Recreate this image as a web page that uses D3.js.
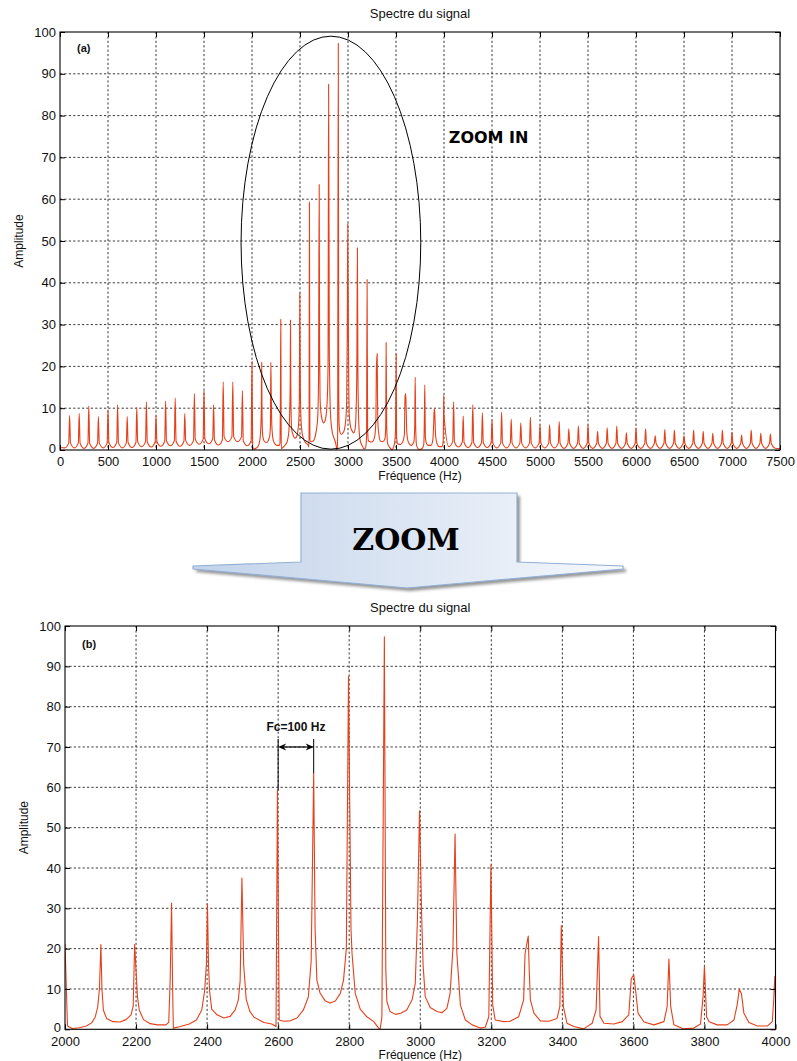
<!DOCTYPE html>
<html>
<head>
<meta charset="utf-8">
<script src="https://cdn.jsdelivr.net/npm/d3@7"></script>
<style>
  body { margin: 0; background: #fff; }
  svg { display: block; font-family: "Liberation Sans", Arial, sans-serif; }
</style>
</head>
<body>
<svg id="fig" width="797" height="1061"></svg>
<script>
// ---- Spectrum data -------------------------------------------------------
// Harmonic peaks below the detailed band (Hz, amplitude)
const lowFreqs = [100, 200, 300, 400, 500, 600, 700, 800, 900, 1000,
                  1100, 1200, 1300, 1400, 1500, 1600, 1700, 1800, 1900];
const lowPeaks = [8.3, 8.8, 10.5, 8.0, 9.6, 10.8, 8.0, 10.2, 11.5, 8.3,
                  11.7, 12.4, 8.7, 13.5, 14.2, 10.8, 16.3, 16.3, 14.2];
// Valley levels midway between peaks (50, 150, ... 1950 Hz)
const lowValleys = [0.5, 0.5, 0.4, 0.4, 0.5, 0.6, 0.5, 0.6, 0.8, 0.7,
                    0.9, 1.0, 0.9, 1.1, 1.4, 1.5, 1.2, 2.0, 2.0, 1.0];
const lowStart = 0.6;

// Detailed trace of the 2000-4000 Hz band
const bandFreqs = [
  2000, 2007, 2020, 2040, 2060, 2075, 2085, 2092, 2097, 2101, 2104, 2108, 2117, 2135, 2155, 2172, 2186, 2192, 2196, 2200,
  2204, 2209, 2221, 2240, 2260, 2284, 2292, 2296, 2300, 2303, 2305, 2325, 2350, 2370, 2385, 2393, 2398, 2401, 2404, 2407,
  2413, 2428, 2447, 2465, 2479, 2488, 2493, 2498, 2503, 2510, 2520, 2532, 2560, 2582, 2594, 2598, 2603, 2615, 2634, 2653,
  2671, 2685, 2693, 2700, 2704, 2709, 2718, 2732, 2746, 2761, 2775, 2784, 2792, 2798, 2805, 2808, 2817, 2831, 2850, 2869,
  2883, 2887, 2892, 2899, 2903, 2906, 2915, 2930, 2945, 2962, 2977, 2986, 2992, 2998, 3004, 3008, 3014, 3028, 3047, 3061,
  3075, 3084, 3092, 3098, 3103, 3113, 3127, 3146, 3169, 3183, 3193, 3199, 3204, 3211, 3235, 3253, 3277, 3291, 3295, 3304,
  3307, 3310, 3320, 3338, 3362, 3385, 3393, 3397, 3403, 3413, 3432, 3460, 3484, 3495, 3502, 3506, 3517, 3545, 3569, 3587,
  3594, 3601, 3606, 3613, 3630, 3658, 3686, 3695, 3700, 3705, 3714, 3742, 3770, 3789, 3796, 3800, 3806, 3813, 3836, 3864,
  3883, 3892, 3898, 3904, 3911, 3925, 3949, 3977, 3991, 3995, 3998, 4000];
const bandAmps = [
  21.2, 0.8, 0.2, 0.4, 0.8, 1.6, 3.0, 5.5, 10.0, 21.0, 10.0, 4.8, 2.7, 1.9, 1.8, 2.4, 3.6, 5.8, 21.0, 14.5,
  8.0, 4.8, 2.4, 1.4, 1.1, 1.1, 1.7, 12.0, 31.3, 10.0, 0.3, 0.7, 1.3, 2.3, 4.8, 9.5, 16.0, 31.1, 16.0, 9.5,
  5.0, 3.6, 2.8, 3.2, 4.8, 7.3, 12.0, 37.5, 16.0, 7.5, 4.5, 3.0, 1.7, 1.3, 0.7, 59.3, 2.3, 2.0, 2.1, 2.8,
  4.8, 8.0, 17.0, 63.5, 25.0, 12.2, 9.0, 7.1, 6.5, 7.0, 8.9, 12.2, 20.0, 87.5, 25.0, 18.8, 8.9, 5.0, 3.1, 1.9,
  0.3, 0.0, 3.0, 97.3, 15.0, 6.9, 4.4, 3.7, 4.0, 4.8, 7.3, 11.4, 27.0, 54.2, 28.0, 16.0, 8.1, 5.4, 4.4, 4.1,
  5.2, 8.9, 20.0, 48.4, 19.0, 6.0, 2.3, 1.1, 0.3, 0.5, 3.1, 40.8, 6.0, 2.3, 1.9, 2.0, 3.1, 7.3, 18.8, 23.1,
  14.0, 7.3, 4.0, 2.1, 2.0, 2.7, 5.6, 25.7, 5.6, 1.5, 0.7, 0.1, 1.5, 4.8, 23.0, 3.2, 1.5, 1.3, 1.9, 3.6,
  12.6, 13.5, 9.8, 4.0, 1.8, 1.1, 1.9, 5.6, 17.4, 5.6, 1.1, 0.1, 0.3, 1.3, 8.1, 15.6, 3.1, 1.9, 1.1, 1.1,
  2.3, 6.0, 9.9, 8.9, 4.0, 1.7, 0.8, 0.8, 1.9, 7.3, 13.1, 8.5];

// Harmonic peaks above the detailed band
const highFreqs = [4100, 4200, 4300, 4400, 4500, 4600, 4700, 4800, 4900, 5000,
                   5100, 5200, 5300, 5400, 5500, 5600, 5700, 5800, 5900, 6000,
                   6100, 6200, 6300, 6400, 6500, 6600, 6700, 6800, 6900, 7000,
                   7100, 7200, 7300, 7400];
const highPeaks = [11.5, 8.1, 10.8, 8.9, 7.2, 9.0, 7.4, 6.5, 7.8, 6.1,
                   6.0, 6.8, 5.1, 5.7, 6.1, 4.5, 5.3, 5.7, 4.1, 5.3,
                   5.1, 3.4, 4.9, 4.8, 3.4, 4.8, 4.5, 4.0, 4.8, 4.3,
                   3.6, 4.8, 4.0, 3.8];
// Valley levels at 4050, 4150, ... 7450 Hz
const highValleys = [0.8, 0.7, 0.6, 0.6, 0.6, 0.5, 0.5, 0.5, 0.5, 0.5,
                     0.5, 0.5, 0.4, 0.4, 0.4, 0.4, 0.4, 0.4, 0.4, 0.4,
                     0.4, 0.4, 0.4, 0.4, 0.4, 0.4, 0.4, 0.4, 0.4, 0.4,
                     0.4, 0.4, 0.4, 0.4, 0.4];
const highEnd = 0.3;

// Axis ticks
const xTicksA = [0, 500, 1000, 1500, 2000, 2500, 3000, 3500, 4000, 4500, 5000, 5500, 6000, 6500, 7000, 7500];
const xTicksB = [2000, 2200, 2400, 2600, 2800, 3000, 3200, 3400, 3600, 3800, 4000];
const yTicks = [0, 10, 20, 30, 40, 50, 60, 70, 80, 90, 100];

// Highlight ellipse around the dominant band (centre Hz/amplitude, radii)
const ellipseCentre = [2822, 49.6];
const ellipseRadii = [936, 49.4];

// Carrier spacing annotation
const fcMarks = [2600, 2700];
const fcLevel = 70;
const fcTop = 72;

// ---- Drawing -------------------------------------------------------------
const RED = "#e5401a";
const svg = d3.select("#fig");

// Peak glyph for the coarse bands: valley -> narrow foot -> spike -> foot -> valley
const footLift = 1.2;
function coarseTrace(freqs, peaks, valleys) {
  const pts = [];
  freqs.forEach((f, i) => {
    pts.push([f - 50, valleys[i]], [f - 9, valleys[i] + footLift], [f, peaks[i]], [f + 9, valleys[i + 1] + footLift]);
  });
  pts.push([freqs[freqs.length - 1] + 50, valleys[freqs.length]]);
  return pts;
}

const bandTrace = bandFreqs.map((f, i) => [f, bandAmps[i]]);
const fullTrace = [[0, lowStart]]
  .concat(coarseTrace(lowFreqs, lowPeaks, lowValleys))
  .concat([[1991, lowValleys[lowValleys.length - 1] + footLift]])
  .concat(bandTrace)
  .concat(coarseTrace(highFreqs, highPeaks, highValleys))
  .concat([[7500, highEnd]]);

function drawPanel(opt) {
  const { left, right, top, bottom, xDomain, xTicks, data, curve, id } = opt;
  const x = d3.scaleLinear().domain(xDomain).range([left, right]);
  const y = d3.scaleLinear().domain([0, 100]).range([bottom, top]);
  const g = svg.append("g");

  g.append("clipPath").attr("id", id).append("rect")
    .attr("x", left).attr("y", top).attr("width", right - left).attr("height", bottom - top);

  // dotted grid
  const grid = g.append("g").attr("stroke", "#222").attr("stroke-width", 0.9)
    .attr("stroke-dasharray", "2.2,2.2");
  grid.selectAll(".gx").data(xTicks.slice(1, -1)).join("line")
    .attr("x1", d => x(d)).attr("x2", d => x(d)).attr("y1", top).attr("y2", bottom);
  grid.selectAll(".gy").data(yTicks.slice(1, -1)).join("line")
    .attr("y1", d => y(d)).attr("y2", d => y(d)).attr("x1", left).attr("x2", right);

  // spectrum
  g.append("path").datum(data)
    .attr("clip-path", `url(#${id})`)
    .attr("fill", "none").attr("stroke", RED).attr("stroke-width", 1.1)
    .attr("stroke-linejoin", "round")
    .attr("d", d3.line().x(d => x(d[0])).y(d => y(d[1])).curve(curve));

  // axes with inward ticks on all four sides
  const fmt = d3.format("d");
  const ax = g.append("g").attr("transform", `translate(0,${bottom})`)
    .call(d3.axisBottom(x).tickValues(xTicks).tickFormat(fmt).tickSize(-5).tickPadding(7).tickSizeOuter(0));
  const ay = g.append("g").attr("transform", `translate(${left},0)`)
    .call(d3.axisLeft(y).tickValues(yTicks).tickFormat(fmt).tickSize(-5).tickPadding(4).tickSizeOuter(0));
  const at = g.append("g").attr("transform", `translate(0,${top})`)
    .call(d3.axisTop(x).tickValues(xTicks).tickSize(-5).tickFormat("").tickSizeOuter(0));
  const ar = g.append("g").attr("transform", `translate(${right},0)`)
    .call(d3.axisRight(y).tickValues(yTicks).tickSize(-5).tickFormat("").tickSizeOuter(0));
  [ax, ay, at, ar].forEach(a => {
    a.select(".domain").remove();
    a.selectAll("line").attr("stroke", "#000");
    a.selectAll("text").attr("fill", "#111").style("font-size", "13px")
      .style("font-family", '"Liberation Sans", Arial, sans-serif');
  });
  // lowest y label sits a touch above the corner
  ay.selectAll(".tick").filter(d => d === 0).select("text").attr("dy", "0.2em");

  g.append("rect").attr("x", left).attr("y", top).attr("width", right - left).attr("height", bottom - top)
    .attr("fill", "none").attr("stroke", "#000").attr("stroke-width", 1.1);

  // titles
  g.append("text").attr("x", (left + right) / 2).attr("y", top - 14).attr("text-anchor", "middle")
    .style("font-size", "13px").attr("fill", "#111").text("Spectre du signal");
  g.append("text").attr("x", (left + right) / 2).attr("y", bottom + 30).attr("text-anchor", "middle")
    .style("font-size", "12px").attr("fill", "#111").text("Fréquence (Hz)");
  g.append("text").attr("transform", `translate(${left - 37},${(top + bottom) / 2}) rotate(-90)`)
    .attr("text-anchor", "middle").style("font-size", "12px").attr("fill", "#111").text("Amplitude");

  return { g, x, y };
}

// Panel (a): full spectrum
const A = drawPanel({ left: 60, right: 780, top: 32, bottom: 450, xDomain: [0, 7500],
  xTicks: xTicksA, data: fullTrace, curve: d3.curveMonotoneX, id: "clipA" });

A.g.append("ellipse")
  .attr("cx", A.x(ellipseCentre[0])).attr("cy", A.y(ellipseCentre[1]))
  .attr("rx", A.x(ellipseCentre[0] + ellipseRadii[0]) - A.x(ellipseCentre[0]))
  .attr("ry", A.y(0) - A.y(ellipseRadii[1]))
  .attr("fill", "none").attr("stroke", "#000").attr("stroke-width", 1);

A.g.append("text").attr("x", 77).attr("y", 52).style("font-size", "11px").style("font-weight", "bold")
  .attr("fill", "#111").text("(a)");
A.g.append("text").attr("x", A.x(4050)).attr("y", A.y(73.5))
  .style("font-family", '"DejaVu Sans", sans-serif').style("font-size", "16px").style("font-weight", "bold")
  .attr("fill", "#000").text("ZOOM IN");

// Panel (b): 2000-4000 Hz band
const B = drawPanel({ left: 65, right: 775.5, top: 626, bottom: 1029.3, xDomain: [2000, 4000],
  xTicks: xTicksB, data: bandTrace, curve: d3.curveLinear, id: "clipB" });

B.g.append("text").attr("x", 82).attr("y", 648).style("font-size", "11px").style("font-weight", "bold")
  .attr("fill", "#111").text("(b)");

// Fc spacing marker between two neighbouring peaks
const peakAt = f => d3.max(bandTrace.filter(d => Math.abs(d[0] - f) <= 5), d => d[1]);
fcMarks.forEach(f => {
  B.g.append("line").attr("x1", B.x(f)).attr("x2", B.x(f))
    .attr("y1", B.y(fcTop)).attr("y2", B.y(peakAt(f)))
    .attr("stroke", "#000").attr("stroke-width", 1);
});
const ax0 = B.x(fcMarks[0]), ax1 = B.x(fcMarks[1]), ay0 = B.y(fcLevel);
B.g.append("line").attr("x1", ax0 + 2).attr("x2", ax1 - 2).attr("y1", ay0).attr("y2", ay0)
  .attr("stroke", "#000").attr("stroke-width", 1.2);
B.g.append("path").attr("fill", "#000")
  .attr("d", `M${ax0},${ay0} L${ax0 + 8},${ay0 - 3.5} L${ax0 + 5.5},${ay0} L${ax0 + 8},${ay0 + 3.5} Z`);
B.g.append("path").attr("fill", "#000")
  .attr("d", `M${ax1},${ay0} L${ax1 - 8},${ay0 - 3.5} L${ax1 - 5.5},${ay0} L${ax1 - 8},${ay0 + 3.5} Z`);
B.g.append("text").attr("x", (ax0 + ax1) / 2).attr("y", ay0 - 16).attr("text-anchor", "middle")
  .style("font-size", "12px").style("font-weight", "bold").attr("fill", "#111").text("Fc=100 Hz");

// ---- ZOOM block arrow between the two panels -----------------------------
const defs = svg.append("defs");
const grad = defs.append("linearGradient").attr("id", "arrowFill").attr("x1", "0").attr("x2", "1").attr("y1", "0").attr("y2", "0");
grad.append("stop").attr("offset", "0").attr("stop-color", "#c2d3ea");
grad.append("stop").attr("offset", "1").attr("stop-color", "#f6f8fc");
const shadow = defs.append("filter").attr("id", "arrowShadow").attr("x", "-10%").attr("y", "-10%").attr("width", "130%").attr("height", "150%");
shadow.append("feGaussianBlur").attr("stdDeviation", 1.6);

const arrowPts = [[301, 493], [517, 493], [517, 562], [623, 566], [623, 569], [407, 588],
                  [193, 569], [193, 566], [301, 562]];
const arrowPath = "M" + arrowPts.map(p => p.join(",")).join("L") + "Z";
svg.append("path").attr("d", arrowPath).attr("transform", "translate(3,3)")
  .attr("fill", "#6f6f6f").attr("opacity", 0.75).attr("filter", "url(#arrowShadow)");
svg.append("path").attr("d", arrowPath).attr("fill", "url(#arrowFill)")
  .attr("stroke", "#93b0d6").attr("stroke-width", 1.2).attr("stroke-linejoin", "miter");
svg.append("text").attr("x", 406).attr("y", 550).attr("text-anchor", "middle")
  .style("font-family", '"DejaVu Serif", serif').style("font-size", "30px").style("font-weight", "bold")
  .attr("fill", "#000").text("ZOOM");
</script>
</body>
</html>
